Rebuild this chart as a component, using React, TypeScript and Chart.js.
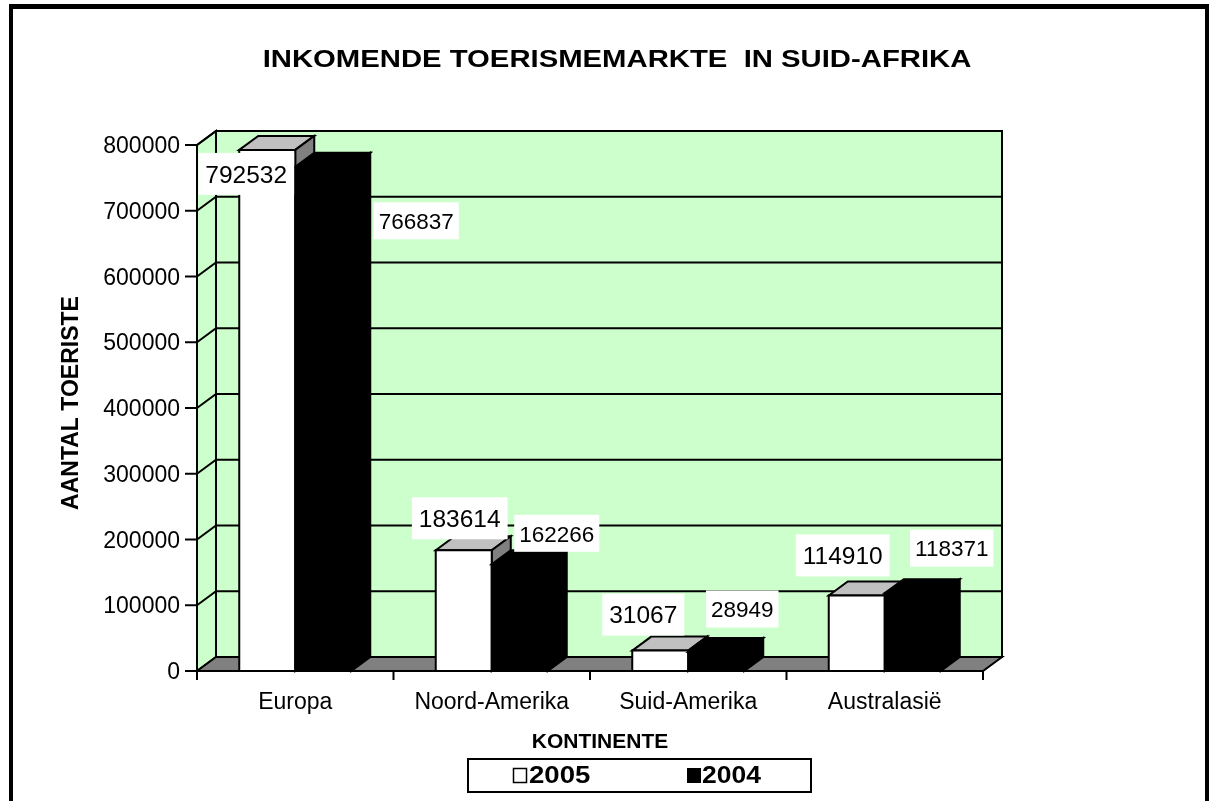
import React, { useEffect, useRef } from "react";
import { Chart, registerables } from "chart.js";

Chart.register(...registerables);

// ---- data ----
const chartTitle = "INKOMENDE TOERISMEMARKTE  IN SUID-AFRIKA";
const yAxisTitle = "AANTAL TOERISTE";
const xAxisTitle = "KONTINENTE";
const categories = ["Europa", "Noord-Amerika", "Suid-Amerika", "Australasië"];
const seriesLabels = ["2005", "2004"];
const values2005 = [792532, 183614, 31067, 114910];
const values2004 = [766837, 162266, 28949, 118371];
const yTickValues = [0, 100000, 200000, 300000, 400000, 500000, 600000, 700000, 800000];

// ---- style / layout ----
const FONT = "'Liberation Sans', Arial, sans-serif";
const DEPTH_X = 19;
const DEPTH_Y = -14;
const WALL = "#CCFFCC";
const FLOOR = "#808080";
const labelOffsets = [
  [[-21, 24], [-4, -32], [-17, -36], [-14, -40]],
  [[93, 54], [37, -31], [26, -43], [39, -45]],
];
const seriesStyles = [
  { front: "#FFFFFF", top: "#C0C0C0", side: "#808080", labelFont: 24.5, boxH: 42, pad: 14 },
  { front: "#000000", top: "#000000", side: "#000000", labelFont: 22.5, boxH: 37, pad: 10 },
];

function poly(ctx: CanvasRenderingContext2D, pts: number[][], fill: string | null, stroke = true) {
  ctx.beginPath();
  ctx.moveTo(pts[0][0], pts[0][1]);
  for (let i = 1; i < pts.length; i++) ctx.lineTo(pts[i][0], pts[i][1]);
  ctx.closePath();
  if (fill) {
    ctx.fillStyle = fill;
    ctx.fill();
  }
  if (stroke) {
    ctx.strokeStyle = "#000";
    ctx.stroke();
  }
}

function line(ctx: CanvasRenderingContext2D, pts: number[][]) {
  ctx.beginPath();
  ctx.moveTo(pts[0][0], pts[0][1]);
  for (let i = 1; i < pts.length; i++) ctx.lineTo(pts[i][0], pts[i][1]);
  ctx.strokeStyle = "#000";
  ctx.stroke();
}

const excel3d = {
  id: "excel3d",
  beforeDraw(chart: any) {
    const ctx: CanvasRenderingContext2D = chart.ctx;
    const { left, right, top, bottom } = chart.chartArea;
    const ys = chart.scales.y;
    const dx = DEPTH_X;
    const dy = DEPTH_Y;
    ctx.save();
    ctx.fillStyle = "#fff";
    ctx.fillRect(0, 0, chart.width, chart.height);

    // outer frame
    ctx.fillStyle = "#000";
    ctx.fillRect(9, 4, 1200, 5);
    ctx.fillRect(9, 4, 4, chart.height);
    ctx.fillRect(1205, 4, 4, chart.height);

    ctx.lineWidth = 2;
    ctx.lineJoin = "miter";
    // back wall, side wall, floor
    poly(ctx, [[left + dx, top + dy], [right + dx, top + dy], [right + dx, bottom + dy], [left + dx, bottom + dy]], WALL);
    poly(ctx, [[left, top], [left + dx, top + dy], [left + dx, bottom + dy], [left, bottom]], WALL);
    poly(ctx, [[left, bottom], [left + dx, bottom + dy], [right + dx, bottom + dy], [right, bottom]], FLOOR);

    // gridlines
    for (const v of yTickValues) {
      if (v === 0) continue;
      const py = ys.getPixelForValue(v);
      line(ctx, [[left, py], [left + dx, py + dy], [right + dx, py + dy]]);
    }

    // axes
    line(ctx, [[left, top], [left, bottom], [right, bottom]]);
    ctx.fillStyle = "#000";
    ctx.font = `23px ${FONT}`;
    ctx.textAlign = "right";
    ctx.textBaseline = "alphabetic";
    for (const v of yTickValues) {
      const py = ys.getPixelForValue(v);
      line(ctx, [[left - 12, py], [left, py]]);
      ctx.fillText(String(v), left - 17, py + 8);
    }
    const n = categories.length;
    const w = (right - left) / n;
    for (let i = 0; i <= n; i++) {
      const bx = left + i * w;
      line(ctx, [[bx, bottom], [bx, bottom + 9]]);
    }
    const xs = chart.scales.x;
    ctx.textAlign = "center";
    categories.forEach((c, i) => {
      ctx.fillText(c, xs.getPixelForValue(i), bottom + 38);
    });

    // title
    ctx.font = `bold 24px ${FONT}`;
    ctx.save();
    ctx.translate(617, 67);
    ctx.scale(1.22, 1);
    ctx.fillText(chartTitle, 0, 0);
    ctx.restore();

    // y axis title
    ctx.save();
    ctx.font = `bold 23px ${FONT}`;
    ctx.translate(78, 403);
    ctx.rotate(-Math.PI / 2);
    ctx.fillText(yAxisTitle, 0, 0);
    ctx.restore();

    // x axis title
    ctx.font = `bold 21px ${FONT}`;
    ctx.fillText(xAxisTitle, 600, 748);

    // legend
    ctx.lineWidth = 2;
    ctx.strokeRect(468, 759, 343, 33);
    ctx.lineWidth = 1.5;
    ctx.fillStyle = "#fff";
    ctx.fillRect(513.5, 768.5, 13, 14);
    ctx.strokeRect(513.5, 768.5, 13, 14);
    ctx.fillStyle = "#000";
    ctx.fillRect(687, 768, 14, 15);
    ctx.font = `bold 23px ${FONT}`;
    ctx.textAlign = "left";
    ctx.save();
    ctx.translate(529, 783);
    ctx.scale(1.2, 1);
    ctx.fillText(seriesLabels[0], 0, 0);
    ctx.restore();
    ctx.save();
    ctx.translate(702, 783);
    ctx.scale(1.15, 1);
    ctx.fillText(seriesLabels[1], 0, 0);
    ctx.restore();

    ctx.restore();
  },
  afterDatasetsDraw(chart: any) {
    const ctx: CanvasRenderingContext2D = chart.ctx;
    const dx = DEPTH_X;
    const dy = DEPTH_Y;
    ctx.save();
    ctx.lineWidth = 2;
    ctx.lineJoin = "miter";
    const nDs = chart.data.datasets.length;
    const metas = [];
    for (let d = 0; d < nDs; d++) metas.push(chart.getDatasetMeta(d));
    for (let i = 0; i < categories.length; i++) {
      for (let d = 0; d < nDs; d++) {
        const el = metas[d].data[i];
        const { x, y, base, width } = el.getProps(["x", "y", "base", "width"], true);
        const x0 = x - width / 2;
        const x1 = x + width / 2;
        const st = seriesStyles[d];
        poly(ctx, [[x0, y], [x0 + dx, y + dy], [x1 + dx, y + dy], [x1, y]], st.top);
        poly(ctx, [[x1, y], [x1 + dx, y + dy], [x1 + dx, base + dy], [x1, base]], st.side);
        poly(ctx, [[x0, y], [x1, y], [x1, base], [x0, base]], st.front);
      }
    }
    // data labels
    ctx.textAlign = "center";
    ctx.textBaseline = "middle";
    for (let d = 0; d < nDs; d++) {
      const st = seriesStyles[d];
      ctx.font = `${st.labelFont}px ${FONT}`;
      const vals = chart.data.datasets[d].data;
      for (let i = 0; i < categories.length; i++) {
        const el = metas[d].data[i];
        const { x, y } = el.getProps(["x", "y"], true);
        const [ox, oy] = labelOffsets[d][i];
        const cx = x + ox;
        const cy = y + oy;
        const txt = String(vals[i]);
        const tw = ctx.measureText(txt).width;
        const bw = tw + st.pad;
        ctx.fillStyle = "#fff";
        ctx.fillRect(cx - bw / 2, cy - st.boxH / 2, bw, st.boxH);
        ctx.fillStyle = "#000";
        ctx.fillText(txt, cx, cy + 2);
      }
    }
    ctx.restore();
  },
};

export default function App() {
  const ref = useRef<HTMLCanvasElement>(null);
  useEffect(() => {
    const chart = new Chart(ref.current as HTMLCanvasElement, {
      type: "bar",
      data: {
        labels: categories,
        datasets: [
          { label: seriesLabels[0], data: values2005, backgroundColor: "rgba(0,0,0,0)", borderWidth: 0 },
          { label: seriesLabels[1], data: values2004, backgroundColor: "rgba(0,0,0,0)", borderWidth: 0 },
        ],
      },
      options: {
        responsive: false,
        animation: false,
        events: [],
        layout: { padding: { left: 197, right: 229, top: 145, bottom: 130 } },
        datasets: { bar: { categoryPercentage: 0.57, barPercentage: 1 } },
        scales: {
          x: { display: false, offset: true },
          y: { display: false, min: 0, max: 800000 },
        },
        plugins: {
          legend: { display: false },
          tooltip: { enabled: false },
          title: { display: false },
        },
      } as any,
      plugins: [excel3d as any],
    });
    return () => chart.destroy();
  }, []);
  return (
    <canvas
      ref={ref}
      width={1212}
      height={801}
      style={{ position: "fixed", left: 0, top: 0, width: 1212, height: 801 }}
    />
  );
}
